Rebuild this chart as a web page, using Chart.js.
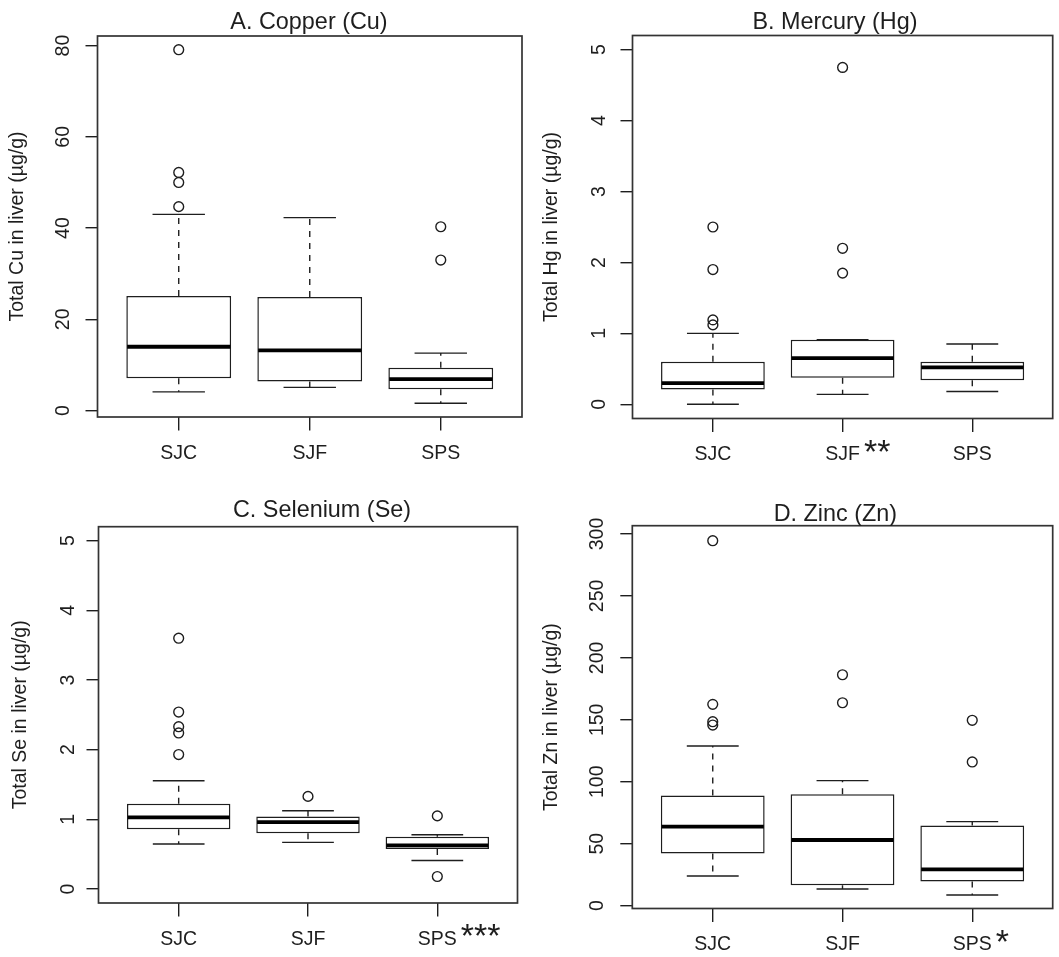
<!DOCTYPE html>
<html>
<head>
<meta charset="utf-8">
<title>Total trace elements in liver</title>
<script src="https://cdn.jsdelivr.net/npm/chart.js@4.4.1/dist/chart.umd.min.js"></script>
<style>
  html, body { margin: 0; padding: 0; background: #fff; }
  #wrap { position: relative; width: 1059px; height: 957px; }
  #wrap canvas { position: absolute; left: 0; top: 0; }
</style>
</head>
<body>
<div id="wrap">
  <canvas id="cu" width="1059" height="957"></canvas>
  <canvas id="hg" width="1059" height="957"></canvas>
  <canvas id="se" width="1059" height="957"></canvas>
  <canvas id="zn" width="1059" height="957"></canvas>
</div>
<script>
// sites, placed at 1..3 on a linear x axis like R's boxplot
const sites = ["SJC", "SJF", "SPS"];
const sitePos = [1, 2, 3];

// A. Copper (µg/g)
const cuLow = [4.1, 5.1, 1.6];
const cuQ1 = [7.1, 6.4, 4.7];
const cuMedian = [14.0, 13.2, 6.9];
const cuQ3 = [25.1, 24.9, 9.4];
const cuHigh = [43.0, 42.3, 12.6];
const cuOutliers = [[79.1, 52.2, 50.0, 44.7], [], [40.3, 33.0]];
const cuStars = ["", "", ""];
const cuTicks = [0, 20, 40, 60, 80];

// B. Mercury
const hgLow = [0.0, 0.14, 0.18];
const hgQ1 = [0.21, 0.375, 0.34];
const hgMedian = [0.30, 0.65, 0.52];
const hgQ3 = [0.60, 0.91, 0.60];
const hgHigh = [1.0, 0.91, 0.85];
const hgOutliers = [[2.5, 1.9, 1.19, 1.12], [4.75, 2.2, 1.85], []];
const hgStars = ["", "**", ""];
const hgTicks = [0, 1, 2, 3, 4, 5];

// C. Selenium
const seLow = [0.646, 0.67, 0.41];
const seQ1 = [0.86, 0.80, 0.574];
const seMedian = [1.03, 0.96, 0.627];
const seQ3 = [1.225, 1.04, 0.75];
const seHigh = [1.555, 1.124, 0.78];
const seOutliers = [[3.6, 2.54, 2.33, 2.24, 1.93], [1.33], [1.05, 0.18]];
const seStars = ["", "", "***"];
const seTicks = [0, 1, 2, 3, 4, 5];

// D. Zinc
const znLow = [23.9, 13.5, 8.6];
const znQ1 = [42.0, 16.4, 19.4];
const znMedian = [63.8, 53.0, 29.3];
const znQ3 = [89.0, 89.9, 64.6];
const znHigh = [128.9, 100.9, 67.8];
const znOutliers = [[294.6, 162.5, 148.5, 145.8], [186.4, 163.8], [149.6, 116.0]];
const znStars = ["", "", "*"];
const znTicks = [0, 50, 100, 150, 200, 250, 300];

const PAGE_W = 1059, PAGE_H = 957;
const ink = "#1e1e1e";
const family = "'Liberation Sans', Arial, Helvetica, sans-serif";
const axisFont = { family: family, size: 19.5, lineHeight: 1.2 };

const panels = [
  {
    id: "cu", title: "A. Copper (Cu)", yTitle: "Total Cu in liver (µg/g)",
    low: cuLow, q1: cuQ1, med: cuMedian, q3: cuQ3, high: cuHigh, out: cuOutliers,
    stars: cuStars, ticks: cuTicks, yMin: -1.4, yMax: 82.1,
    frame: { ox: 0, oy: 0, oh: 478, left: 97.5, top: 36, right: 522, bottom: 417 },
    titleX: 309, titleY: 28.5, yTitleX: 17.5, yLabelGap: 34
  },
  {
    id: "hg", title: "B. Mercury (Hg)", yTitle: "Total Hg in liver (µg/g)",
    low: hgLow, q1: hgQ1, med: hgMedian, q3: hgQ3, high: hgHigh, out: hgOutliers,
    stars: hgStars, ticks: hgTicks, yMin: -0.2, yMax: 5.2,
    frame: { ox: 530, oy: 0, oh: 478, left: 632.5, top: 35.5, right: 1057, bottom: 418.5 },
    titleX: 835, titleY: 28.5, yTitleX: 552, yLabelGap: 33
  },
  {
    id: "se", title: "C. Selenium (Se)", yTitle: "Total Se in liver (µg/g)",
    low: seLow, q1: seQ1, med: seMedian, q3: seQ3, high: seHigh, out: seOutliers,
    stars: seStars, ticks: seTicks, yMin: -0.2, yMax: 5.2,
    frame: { ox: 0, oy: 478, oh: 479, left: 98.5, top: 526.7, right: 517.5, bottom: 903 },
    titleX: 322, titleY: 516.8, yTitleX: 20.3, yLabelGap: 30
  },
  {
    id: "zn", title: "D. Zinc (Zn)", yTitle: "Total Zn in liver (µg/g)",
    low: znLow, q1: znQ1, med: znMedian, q3: znQ3, high: znHigh, out: znOutliers,
    stars: znStars, ticks: znTicks, yMin: -2.3, yMax: 306.7,
    frame: { ox: 530, oy: 478, oh: 479, left: 632.3, top: 525.7, right: 1057.5, bottom: 908.5 },
    titleX: 835.4, titleY: 520.8, yTitleX: 552, yLabelGap: 35
  }
];

// medians, whiskers, frame and the R style text that Chart.js does not draw itself
function boxPlotPlugin(p) {
  return {
    id: "boxPlot_" + p.id,
    afterDatasetsDraw(chart) {
      const ctx = chart.ctx;
      const y = chart.scales.y;
      const bars = chart.getDatasetMeta(0).data;
      ctx.save();
      ctx.strokeStyle = ink;
      bars.forEach((bar, i) => {
        const { x, width } = bar.getProps(["x", "width"], true);
        const half = width / 2;
        const yLow = y.getPixelForValue(p.low[i]);
        const yQ1 = y.getPixelForValue(p.q1[i]);
        const yQ3 = y.getPixelForValue(p.q3[i]);
        const yHigh = y.getPixelForValue(p.high[i]);
        const yMed = y.getPixelForValue(p.med[i]);

        // dashed whiskers
        ctx.lineWidth = 1.4;
        ctx.setLineDash([6, 6]);
        ctx.beginPath();
        ctx.moveTo(x, yQ3); ctx.lineTo(x, yHigh);
        ctx.moveTo(x, yQ1); ctx.lineTo(x, yLow);
        ctx.stroke();

        // staples
        ctx.setLineDash([]);
        ctx.beginPath();
        ctx.moveTo(x - half / 2, yHigh); ctx.lineTo(x + half / 2, yHigh);
        ctx.moveTo(x - half / 2, yLow); ctx.lineTo(x + half / 2, yLow);
        ctx.stroke();

        // median
        ctx.lineWidth = 3.8;
        ctx.strokeStyle = "#000";
        ctx.beginPath();
        ctx.moveTo(x - half + 0.8, yMed); ctx.lineTo(x + half - 0.8, yMed);
        ctx.stroke();
        ctx.strokeStyle = ink;
      });
      ctx.restore();
    },
    afterDraw(chart) {
      const ctx = chart.ctx;
      const area = chart.chartArea;
      const xs = chart.scales.x;
      const ys = chart.scales.y;
      ctx.save();

      // plot frame
      ctx.strokeStyle = "#333";
      ctx.lineWidth = 1.7;
      ctx.strokeRect(area.left, area.top, area.right - area.left, area.bottom - area.top);

      // main title
      ctx.fillStyle = ink;
      ctx.font = "23.4px " + family;
      ctx.textAlign = "center";
      ctx.textBaseline = "alphabetic";
      ctx.fillText(p.title, p.titleX, p.titleY);

      // y tick labels, parallel to the axis
      ctx.font = axisFont.size + "px " + family;
      ctx.textBaseline = "middle";
      p.ticks.forEach(v => {
        ctx.save();
        ctx.translate(area.left - p.yLabelGap, ys.getPixelForValue(v));
        ctx.rotate(-Math.PI / 2);
        ctx.fillText(String(v), 0, 0);
        ctx.restore();
      });

      // significance stars after the site label
      p.stars.forEach((s, i) => {
        if (!s) return;
        ctx.font = axisFont.size + "px " + family;
        const w = ctx.measureText(sites[i]).width;
        const x = xs.getPixelForValue(sitePos[i]) + w / 2 + 4;
        ctx.font = "34px " + family;
        ctx.textAlign = "left";
        ctx.textBaseline = "alphabetic";
        ctx.fillText(s, x, area.bottom + 44);
      });
      ctx.restore();
    }
  };
}

function makeChart(p) {
  const g = p.frame;
  return new Chart(document.getElementById(p.id), {
    type: "bar",
    data: {
      datasets: [
        {
          type: "bar",
          data: sitePos.map((x, i) => ({ x: x, y: [p.q1[i], p.q3[i]] })),
          backgroundColor: "#fff",
          borderColor: ink,
          borderWidth: 1.5,
          borderSkipped: false,
          barPercentage: 0.8,
          categoryPercentage: 1,
          order: 2
        },
        {
          type: "scatter",
          data: p.out.flatMap((vals, i) => vals.map(v => ({ x: sitePos[i], y: v }))),
          pointStyle: "circle",
          pointRadius: 4.9,
          pointBorderWidth: 1.4,
          pointBorderColor: ink,
          pointBackgroundColor: "rgba(0,0,0,0)",
          order: 1
        }
      ]
    },
    options: {
      responsive: false,
      animation: false,
      events: [],
      layout: {
        padding: {
          left: g.ox,
          top: g.top,
          right: PAGE_W - g.right,
          bottom: PAGE_H - g.oy - g.oh
        }
      },
      plugins: {
        legend: { display: false },
        tooltip: { enabled: false }
      },
      scales: {
        x: {
          type: "linear",
          min: 0.38,
          max: 3.62,
          offset: false,
          afterBuildTicks: s => { s.ticks = sitePos.map(v => ({ value: v })); },
          afterFit: s => { s.height = g.oy + g.oh - g.bottom; },
          grid: { drawOnChartArea: false, drawTicks: true, tickLength: 13.5, color: ink, lineWidth: 1.4, offset: false },
          border: { display: false },
          ticks: {
            autoSkip: false,
            maxRotation: 0,
            padding: 11,
            color: ink,
            font: axisFont,
            callback: v => sites[sitePos.indexOf(v)]
          }
        },
        y: {
          type: "linear",
          min: p.yMin,
          max: p.yMax,
          afterBuildTicks: s => { s.ticks = p.ticks.map(v => ({ value: v })); },
          afterFit: s => { s.width = g.left - g.ox; },
          grid: { drawOnChartArea: false, drawTicks: true, tickLength: 12, color: ink, lineWidth: 1.4 },
          border: { display: false },
          ticks: { display: false },
          title: {
            display: true,
            text: p.yTitle,
            color: ink,
            font: axisFont,
            padding: { top: p.yTitleX - g.ox - 11.7, bottom: 0 }
          }
        }
      }
    },
    plugins: [boxPlotPlugin(p)]
  });
}

panels.forEach(makeChart);
</script>
</body>
</html>
